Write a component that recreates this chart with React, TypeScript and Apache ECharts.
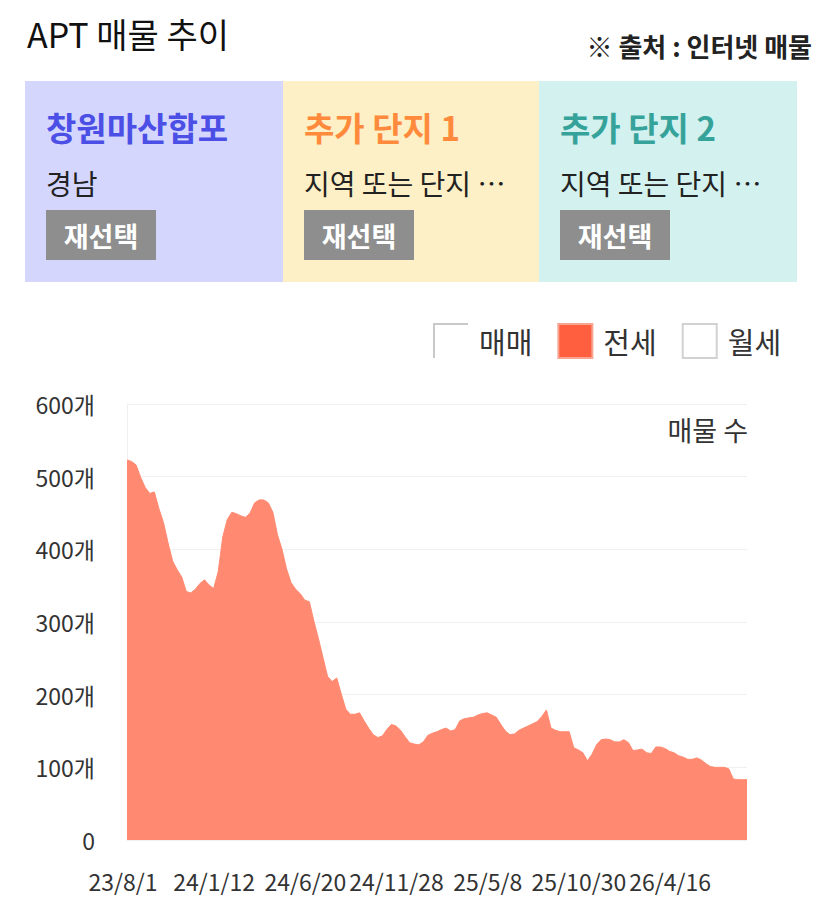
import React, { useEffect, useRef } from "react";
import * as echarts from "echarts";

const FONT = "'Noto Sans CJK KR', 'Noto Sans', sans-serif";

const chartTitle = "APT 매물 추이";
const sourceNote = "※ 출처 : 인터넷 매물";
const yAxisNote = "매물 수";

const seriesNames = ["매매", "전세", "월세"];

const cardTitles = ["창원마산합포", "추가 단지 1", "추가 단지 2"];
const cardSubtitles = ["경남", "지역 또는 단지 …", "지역 또는 단지 …"];
const cardButtonText = "재선택";
const cardTitleColors = ["#4b4fe6", "#ff8a3c", "#36a39b"];
const cardBgColors = ["#d4d6fd", "#fdefc6", "#d3f1ef"];

const xTickLabels = ["23/8/1", "24/1/12", "24/6/20", "24/11/28", "25/5/8", "25/10/30", "26/4/16"];
const labelStep = 20;

const jeonseCounts = [
  523, 521, 516, 499, 485, 477, 479, 456, 437, 409,
  384, 372, 362, 342, 340, 345, 353, 358, 351, 346,
  369, 417, 441, 451, 449, 446, 444, 450, 464, 468,
  468, 464, 451, 420, 400, 373, 354, 345, 339, 330,
  328, 301, 277, 251, 225, 218, 223, 201, 180, 173,
  173, 175, 164, 154, 145, 141, 143, 152, 159, 157,
  151, 142, 134, 132, 131, 135, 144, 147, 149, 152,
  154, 150, 152, 164, 167, 168, 169, 172, 174, 175,
  172, 169, 159, 150, 145, 146, 151, 154, 157, 160,
  163, 170, 179, 154, 151, 149, 149, 149, 127, 124,
  120, 109, 118, 131, 138, 139, 138, 135, 135, 138,
  134, 123, 124, 125, 120, 119, 128, 128, 126, 122,
  120, 116, 114, 111, 111, 113, 110, 105, 101, 100,
  100, 100, 98, 84, 83, 83, 83,
];

function txt(x: number, y: number, text: string, opts: any) {
  const align = opts.align || "left";
  return {
    type: "text",
    silent: true,
    style: {
      x,
      y,
      text,
      fill: opts.color || "#222",
      fontSize: opts.size,
      fontWeight: opts.weight || "normal",
      fontFamily: FONT,
      align,
      textAlign: align,
      verticalAlign: "middle",
      textVerticalAlign: "middle",
    },
  };
}

export default function App() {
  const ref = useRef<HTMLDivElement>(null);

  useEffect(() => {
    if (!ref.current) return;
    const chart = echarts.init(ref.current, null, { renderer: "svg" });

    const graphics: any[] = [];
    graphics.push(txt(27, 33, chartTitle, { size: 34, color: "#111" }));
    graphics.push(txt(812, 45, sourceNote, { size: 26, weight: "bold", color: "#222", align: "right" }));

    const cardX = [25, 283, 539];
    const cardW = [258, 256, 258];
    cardTitles.forEach((t, k) => {
      const x0 = cardX[k];
      graphics.push({
        type: "rect",
        silent: true,
        shape: { x: x0, y: 81, width: cardW[k], height: 201 },
        style: { fill: cardBgColors[k] },
      });
      graphics.push(txt(x0 + 21, 127, t, { size: 33, weight: "bold", color: cardTitleColors[k] }));
      graphics.push(txt(x0 + 21, 183, cardSubtitles[k], { size: 28, color: "#222" }));
      graphics.push({
        type: "rect",
        silent: true,
        shape: { x: x0 + 21, y: 210, width: 110, height: 50 },
        style: { fill: "#8e8e8e" },
      });
      graphics.push(txt(x0 + 21 + 55, 235, cardButtonText, { size: 27, weight: "bold", color: "#ffffff", align: "center" }));
    });
    graphics.push(txt(748, 429, yAxisNote, { size: 27, color: "#333", align: "right" }));

    const option: any = {
      animation: false,
      backgroundColor: "#ffffff",
      textStyle: { fontFamily: FONT },
      graphic: { elements: graphics },
      legend: {
        left: 433,
        top: 323,
        padding: 0,
        itemWidth: 34,
        itemHeight: 34,
        itemGap: 25,
        selectedMode: false,
        textStyle: { fontSize: 29, color: "#333", fontFamily: FONT, padding: [0, 0, 0, 6] },
        data: [
          {
            name: seriesNames[0],
            icon: "path://M0 34 L0 0 L34 0",
            itemStyle: { color: "rgba(0,0,0,0)", borderColor: "#c9c9c9", borderWidth: 2 },
          },
          {
            name: seriesNames[1],
            icon: "rect",
            itemStyle: { color: "#ff5f3f", borderColor: "#f7a591", borderWidth: 2 },
          },
          {
            name: seriesNames[2],
            icon: "rect",
            itemStyle: { color: "#ffffff", borderColor: "#d2d2d2", borderWidth: 2 },
          },
        ],
      },
      grid: { left: 127, right: 80, top: 404, bottom: 62, containLabel: false },
      xAxis: {
        type: "value",
        min: 0,
        max: jeonseCounts.length - 1,
        interval: labelStep,
        axisLine: { show: false },
        axisTick: { show: false },
        splitLine: { show: false },
        axisLabel: {
          showMaxLabel: false,
          fontSize: 23,
          color: "#333",
          fontFamily: FONT,
          margin: 29,
          padding: [0, 8, 0, 0],
          formatter: (v: number) => (v % labelStep === 0 ? xTickLabels[v / labelStep] || "" : ""),
        },
      },
      yAxis: {
        type: "value",
        min: 0,
        max: 600,
        interval: 100,
        axisLine: { show: true, lineStyle: { color: "#f0f0f0" } },
        axisTick: { show: false },
        splitLine: { lineStyle: { color: "#f0f0f0" } },
        axisLabel: {
          fontSize: 23,
          color: "#333",
          fontFamily: FONT,
          margin: 32,
          formatter: (v: number) => (v === 0 ? "0" : `${v}개`),
        },
      },
      series: [
        { name: seriesNames[0], type: "line", data: [], symbol: "none" },
        {
          name: seriesNames[1],
          type: "line",
          data: jeonseCounts.map((v, i) => [i, v]),
          symbol: "none",
          lineStyle: { width: 1, color: "#ff8a71" },
          itemStyle: { color: "#ff5f3f" },
          areaStyle: { color: "#ff8a71", opacity: 1 },
        },
        { name: seriesNames[2], type: "line", data: [], symbol: "none" },
      ],
    };

    chart.setOption(option);
    return () => chart.dispose();
  }, []);

  return (
    <div
      ref={ref}
      style={{ position: "absolute", left: 0, top: 0, width: 827, height: 902, background: "#fff" }}
    />
  );
}
